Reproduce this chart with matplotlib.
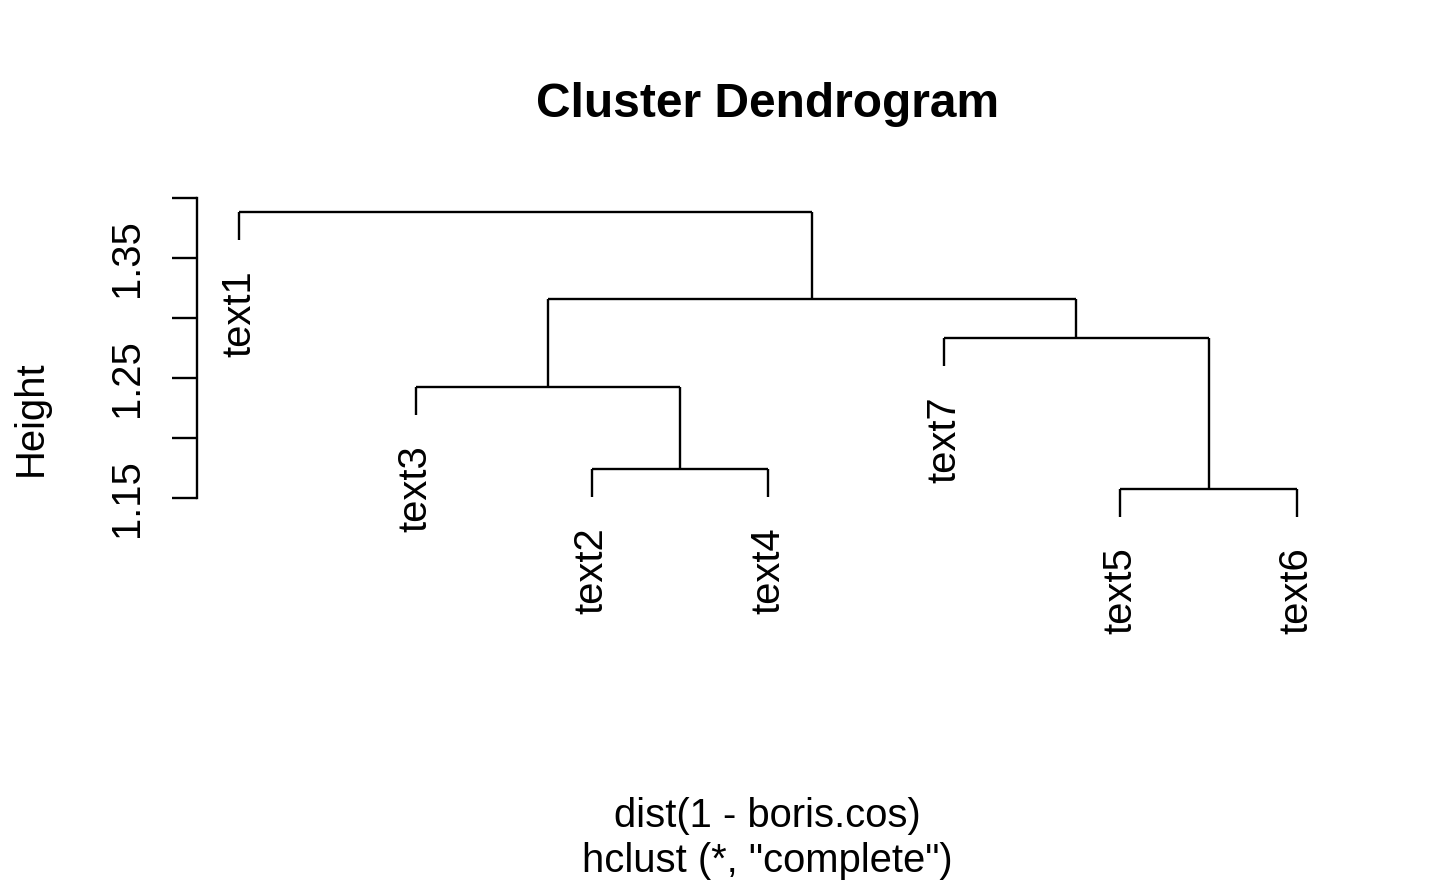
import numpy as np
import matplotlib
matplotlib.use("Agg")
import matplotlib.pyplot as plt

plt.rcParams['font.family'] = ['Liberation Sans', 'DejaVu Sans']

# leaf names (R numbering: text1..text7)
labels = ["text1", "text2", "text3", "text4", "text5", "text6", "text7"]
# R style merge matrix: negative = leaf, positive = earlier merge
merge_left = [-5, -2, -3, -7, 3, -1]
merge_right = [-6, -4, 2, 1, 4, 5]
heights = [1.1575, 1.1742, 1.2425, 1.2833, 1.3158, 1.3883]
leaf_order = [1, 3, 2, 4, 7, 5, 6]

y_ticks = [1.15, 1.20, 1.25, 1.30, 1.35, 1.40]
y_ticklabels = ["1.15", "", "1.25", "", "1.35", ""]

W, H = 1440, 889
fig = plt.figure(figsize=(W / 100, H / 100), dpi=100)

# axes in pixel terms
left, right, top, bottom = 197, 1339, 190, 540
ax = fig.add_axes([left / W, 1 - bottom / H, (right - left) / W, (bottom - top) / H])

hang = 0.1 * (max(heights) - min(heights))
pos = {leaf: i + 1 for i, leaf in enumerate(leaf_order)}
lw = 1.7


def node(ref):
    # returns (x, height) of a node
    if ref < 0:
        return pos[-ref], None
    k = ref - 1
    xl, _ = node(merge_left[k])
    xr, _ = node(merge_right[k])
    return (xl + xr) / 2, heights[k]


for k in range(len(heights)):
    h = heights[k]
    xs = []
    for ref in (merge_left[k], merge_right[k]):
        x, hc = node(ref)
        if hc is None:
            hc = h - hang
            ax.annotate(labels[-ref - 1], (x, hc), xytext=(0, -31),
                        textcoords='offset pixels', rotation=90,
                        ha='center', va='top', fontsize=28.8)
        ax.plot([x, x], [hc, h], color='black', lw=lw, solid_capstyle='butt')
        xs.append(x)
    ax.plot(xs, [h, h], color='black', lw=lw, solid_capstyle='butt')

ax.set_xlim(0.76, 7.24)
ax.set_ylim(1.15 + (498 - bottom) / 1200, 1.15 + (498 - top) / 1200)

for s in ['top', 'right', 'bottom']:
    ax.spines[s].set_visible(False)
ax.spines['left'].set_bounds(1.15, 1.40)
ax.spines['left'].set_linewidth(lw)
ax.set_xticks([])
ax.set_yticks(y_ticks)
ax.set_yticklabels(y_ticklabels, fontsize=28.8, rotation=90, va='center')
ax.tick_params(axis='y', length=18, width=lw, pad=18.5)
ax.patch.set_visible(False)

fig.text(767.5 / W, 1 - 117 / H, "Cluster Dendrogram", fontsize=34.5,
         fontweight='bold', ha='center', va='baseline')
fig.text(767.5 / W, 1 - 827 / H, "dist(1 - boris.cos)", fontsize=28.8,
         ha='center', va='baseline')
fig.text(767.5 / W, 1 - 872 / H, 'hclust (*, "complete")', fontsize=28.8,
         ha='center', va='baseline')
fig.text(31 / W, 1 - 418 / H, "Height", fontsize=28.8, rotation=90,
         ha='center', va='center')

fig.savefig("out.png", dpi=100)
